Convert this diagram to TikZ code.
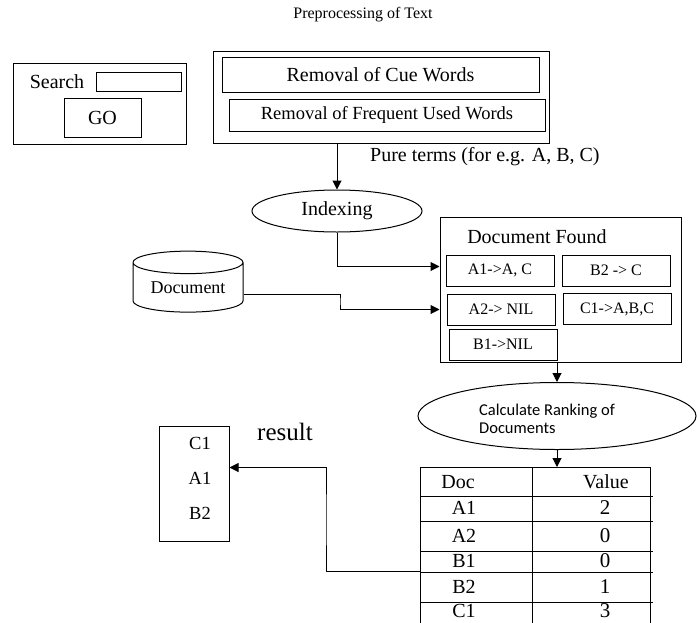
\documentclass[tikz,border=0pt]{standalone}
\usepackage{fontspec}
\setmainfont{Liberation Serif}
\newfontfamily\calcfont{Carlito}
\usetikzlibrary{shapes.geometric,arrows.meta}
\begin{document}
\begin{tikzpicture}
  [x=1pt,y=-1pt,
  every node/.style={font=\fontsize{20}{22}\selectfont,inner sep=0pt},
  bx/.style={draw,rectangle,line width=1pt},
  sm/.style={bx,font=\fontsize{16}{18}\selectfont},
  conn/.style={-{Triangle[length=9pt,width=9pt]},line width=1pt}]
  \useasboundingbox (0,0) rectangle (697,622);
  \def\rw{108}
  % search form
  \node[bx,minimum width=173,minimum height=81] (srch) at (99.5,103.5) {};
  \node at (57,82) {Search};
  \node[bx,minimum width=85,minimum height=19] (field) at (138.5,81.5) {};
  \node[bx,minimum width=77,minimum height=39] (go) at (102.5,117.5) {GO};
  % preprocessing
  \node[font=\fontsize{16}{18}\selectfont] (ttl) at (363,15) {Preprocessing of Text};
  \node[bx,minimum width=336,minimum height=92] (prep) at (381,97) {};
  \node[bx,minimum width=317,minimum height=35] (cue) at (380.5,74.5) {Removal of Cue Words};
  \node[sm,font=\fontsize{18.5}{20}\selectfont,minimum width=316,minimum height=32] (freq) at (387,115) {Removal of Frequent Used Words};
  \node[anchor=west] (pure) at (370,157) {Pure terms (for e.g. A, B, C)};
  \node[draw,ellipse,line width=1pt,minimum width=170,minimum height=42] (index) at (337,211) {Indexing};
  % document store
  \node[draw,cylinder,shape border rotate=90,aspect=.3,line width=1pt,
    minimum width=110,minimum height=61,font=\fontsize{18}{20}\selectfont] (doc) at (188,287.5) {Document};
  % documents found
  \node[bx,minimum width=241,minimum height=145] (found) at (560.5,290) {};
  \node at (537,237) {Document Found};
  \node[sm,minimum width=\rw,minimum height=31] (a1) at (500,270.5) {A1->A, C};
  \node[sm,minimum width=\rw,minimum height=31] (b2) at (616,270.5) {B2 -> C};
  \node[sm,minimum width=\rw,minimum height=31] (a2) at (501,309.5) {A2-> NIL};
  \node[sm,minimum width=\rw,minimum height=31] (c1) at (617,309) {C1->A,B,C};
  \node[sm,minimum width=\rw,minimum height=31] (b1) at (503,344.5) {B1->NIL};
  % ranking
  \node[draw,ellipse,line width=1pt,minimum width=278,minimum height=67] (rank) at (557,416) {};
  \node[align=left,font=\calcfont\fontsize{16.5}{18}\selectfont] (rtxt) at (547,419) {Calculate Ranking of\\Documents};
  % table
  \node[bx,minimum width=230,minimum height=160,anchor=north west] (tbl) at (420,467) {};
  \draw[line width=1pt] (532,467) -- (532,625);
  \foreach \y in {496,521,551,572,602}
    \draw[line width=1pt] (420,\y) -- (653,\y);
  \node at (458,482) {Doc};
  \node at (606,482) {Value};
  \foreach \d/\v/\y in {A1/2/508,A2/0/536,B1/0/561,B2/1/587,C1/3/611}{
    \node at (464,\y) {\d};
    \node[font=\fontsize{21}{23}\selectfont] at (605,\y) {\v};
  }
  % result
  \node[bx,minimum width=70,minimum height=115] (res) at (194,483.5) {};
  \node[font=\fontsize{18.5}{20}\selectfont] at (200,443) {C1};
  \node[font=\fontsize{18.5}{20}\selectfont] at (200,478) {A1};
  \node[font=\fontsize{18.5}{20}\selectfont] at (200,513) {B2};
  \node[font=\fontsize{25}{27}\selectfont] (rlbl) at (285,432) {result};
  % connectors
  \coordinate (dbend) at (340,301);
  \coordinate (rowb2) at (420,571);
  \coordinate (rbend) at (326,520);
  \draw[conn] (index.north |- prep.south) -- (index.north);
  \draw[conn] (index.south) |- ([yshift=4pt]found.west |- a1);
  \draw[conn] ([yshift=-7pt]doc.east) -| (dbend) |- (found.west |- a2);
  \draw[conn] (rank.north |- found.south) -- (rank.north);
  \draw[conn] (rank.south) -- (rank.south |- tbl.north);
  \draw[conn] (rowb2) -| (rbend) |- ([yshift=16pt]res.east);
\end{tikzpicture}
\end{document}
